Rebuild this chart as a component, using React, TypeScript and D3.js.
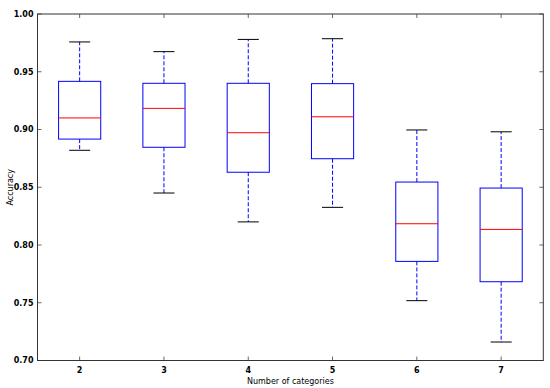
import React, { useEffect, useRef } from "react";
import * as d3 from "d3";

// values
const categories = ["2", "3", "4", "5", "6", "7"];
const whiskerLow = [0.882, 0.845, 0.82, 0.8326, 0.7518, 0.716];
const q1 = [0.8917, 0.8846, 0.863, 0.8747, 0.7858, 0.7682];
const medians = [0.91, 0.9183, 0.8972, 0.911, 0.8184, 0.8135];
const q3 = [0.9417, 0.940, 0.940, 0.9397, 0.8545, 0.8493];
const whiskerHigh = [0.9758, 0.9674, 0.978, 0.9786, 0.8996, 0.898];
const yTicks = [0.7, 0.75, 0.8, 0.85, 0.9, 0.95, 1.0];

const W = 550;
const H = 388;
const margin = { top: 14, right: 6.7, bottom: 27.5, left: 37.5 };

export default function App() {
  const ref = useRef<SVGSVGElement>(null);

  useEffect(() => {
    const svg = d3.select(ref.current);
    svg.selectAll("*").remove();

    const innerW = W - margin.left - margin.right;
    const innerH = H - margin.top - margin.bottom;

    const data = categories.map((c, i) => ({
      cat: +c,
      lo: whiskerLow[i],
      q1: q1[i],
      med: medians[i],
      q3: q3[i],
      hi: whiskerHigh[i],
    }));

    const x = d3.scaleLinear().domain([1.5, 7.5]).range([0, innerW]);
    const y = d3.scaleLinear().domain([0.7, 1.0]).range([innerH, 0]);

    const g = svg
      .append("g")
      .attr("transform", `translate(${margin.left},${margin.top})`);

    const font = "'DejaVu Sans', sans-serif";

    // boxes
    const box = g.selectAll("g.box").data(data).enter().append("g");

    // whiskers (dashed)
    box.append("line")
      .attr("x1", (d) => x(d.cat)).attr("x2", (d) => x(d.cat))
      .attr("y1", (d) => y(d.q3)).attr("y2", (d) => y(d.hi))
      .attr("stroke", "#0000ff").attr("stroke-dasharray", "4,2");
    box.append("line")
      .attr("x1", (d) => x(d.cat)).attr("x2", (d) => x(d.cat))
      .attr("y1", (d) => y(d.q1)).attr("y2", (d) => y(d.lo))
      .attr("stroke", "#0000ff").attr("stroke-dasharray", "4,2");

    // caps
    box.append("line")
      .attr("x1", (d) => x(d.cat - 0.125)).attr("x2", (d) => x(d.cat + 0.125))
      .attr("y1", (d) => y(d.hi)).attr("y2", (d) => y(d.hi))
      .attr("stroke", "#000");
    box.append("line")
      .attr("x1", (d) => x(d.cat - 0.125)).attr("x2", (d) => x(d.cat + 0.125))
      .attr("y1", (d) => y(d.lo)).attr("y2", (d) => y(d.lo))
      .attr("stroke", "#000");

    box.append("rect")
      .attr("x", (d) => x(d.cat - 0.25))
      .attr("y", (d) => y(d.q3))
      .attr("width", x(2) - x(1.5))
      .attr("height", (d) => y(d.q1) - y(d.q3))
      .attr("fill", "none")
      .attr("stroke", "#0000ff");

    box.append("line")
      .attr("x1", (d) => x(d.cat - 0.25)).attr("x2", (d) => x(d.cat + 0.25))
      .attr("y1", (d) => y(d.med)).attr("y2", (d) => y(d.med))
      .attr("stroke", "#ff0000");

    // ticks inside, on all four sides
    const tickLen = 4;
    yTicks.forEach((t) => {
      g.append("line").attr("x1", 0).attr("x2", tickLen)
        .attr("y1", y(t)).attr("y2", y(t)).attr("stroke", "#000").attr("stroke-width", 0.6);
      g.append("line").attr("x1", innerW).attr("x2", innerW - tickLen)
        .attr("y1", y(t)).attr("y2", y(t)).attr("stroke", "#000").attr("stroke-width", 0.6);
      g.append("text")
        .attr("x", -4).attr("y", y(t)).attr("dy", "0.35em")
        .attr("text-anchor", "end")
        .attr("font-family", font).attr("font-size", 8).attr("font-weight", "bold")
        .text(d3.format(".2f")(t));
    });
    data.forEach((d) => {
      g.append("line").attr("x1", x(d.cat)).attr("x2", x(d.cat))
        .attr("y1", innerH).attr("y2", innerH - tickLen).attr("stroke", "#000").attr("stroke-width", 0.6);
      g.append("line").attr("x1", x(d.cat)).attr("x2", x(d.cat))
        .attr("y1", 0).attr("y2", tickLen).attr("stroke", "#000").attr("stroke-width", 0.6);
      g.append("text")
        .attr("x", x(d.cat)).attr("y", innerH + 12)
        .attr("text-anchor", "middle")
        .attr("font-family", font).attr("font-size", 8).attr("font-weight", "bold")
        .text(String(d.cat));
    });

    // frame
    g.append("rect")
      .attr("width", innerW).attr("height", innerH)
      .attr("fill", "none").attr("stroke", "#333").attr("stroke-width", 1);

    // labels
    g.append("text")
      .attr("x", innerW / 2).attr("y", innerH + 23)
      .attr("text-anchor", "middle")
      .attr("font-family", font).attr("font-size", 8)
      .text("Number of categories");
    g.append("text")
      .attr("transform", `translate(${-25},${innerH / 2}) rotate(-90)`)
      .attr("text-anchor", "middle")
      .attr("font-family", font).attr("font-size", 8)
      .text("Accuracy");
  }, []);

  return (
    <svg
      ref={ref}
      width={W}
      height={H}
      style={{ position: "absolute", left: 0, top: 0, background: "#fff" }}
    />
  );
}
